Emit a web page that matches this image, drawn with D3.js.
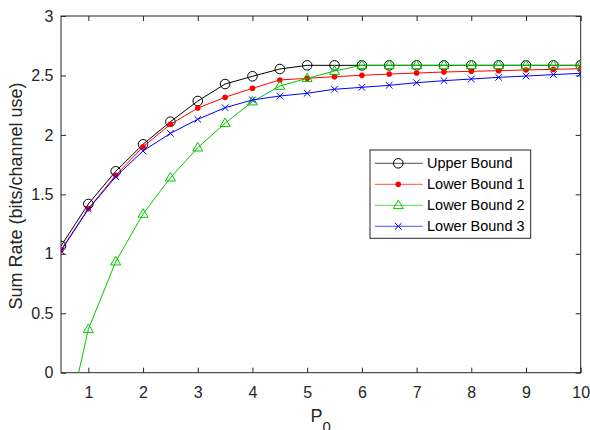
<!DOCTYPE html>
<html>
<head>
<meta charset="utf-8">
<script src="https://cdn.jsdelivr.net/npm/d3@7"></script>
<style>
  body { margin: 0; background: #fff; }
  text { font-family: "Liberation Sans", Arial, sans-serif; }
</style>
</head>
<body>
<svg id="chart"></svg>
<script>
// data
const p0 = [0.5, 1, 1.5, 2, 2.5, 3, 3.5, 4, 4.5, 5, 5.5, 6, 6.5, 7, 7.5, 8, 8.5, 9, 9.5, 10];
const upperBound = [1.066, 1.419, 1.694, 1.921, 2.111, 2.285, 2.428, 2.493, 2.554, 2.585, 2.585, 2.585, 2.585, 2.585, 2.585, 2.585, 2.585, 2.585, 2.585, 2.585];
const lowerBound1 = [1.032, 1.38, 1.66, 1.90, 2.089, 2.226, 2.316, 2.392, 2.462, 2.476, 2.49, 2.501, 2.512, 2.52, 2.529, 2.535, 2.54, 2.546, 2.551, 2.557];
const lowerBound2 = [-0.66, 0.365, 0.934, 1.335, 1.64, 1.892, 2.098, 2.28, 2.411, 2.476, 2.537, 2.585, 2.585, 2.585, 2.585, 2.585, 2.585, 2.585, 2.585, 2.585];
const lowerBound3 = [1.025, 1.375, 1.648, 1.865, 2.013, 2.131, 2.229, 2.294, 2.327, 2.35, 2.384, 2.40, 2.417, 2.439, 2.456, 2.47, 2.484, 2.495, 2.507, 2.518];
const xTicks = [1, 2, 3, 4, 5, 6, 7, 8, 9, 10];
const yTicks = [0, 0.5, 1, 1.5, 2, 2.5, 3];
const seriesNames = ['Upper Bound', 'Lower Bound 1', 'Lower Bound 2', 'Lower Bound 3'];

const width = 590, height = 430;
const margin = {top: 16, right: 9.3, bottom: 57.3, left: 61};
const innerW = width - margin.left - margin.right;
const innerH = height - margin.top - margin.bottom;
const axisColor = '#262626';

const svg = d3.select('#chart').attr('width', width).attr('height', height);
const chart = svg.append('g').attr('transform', `translate(${margin.left}, ${margin.top})`);

const xscale = d3.scaleLinear().domain([0.5, 10]).range([0, innerW]);
const yscale = d3.scaleLinear().domain([0, 3]).range([innerH, 0]);

// axes with inward ticks, box on all sides
const tickLen = 5;
function styleAxis(g){
    g.select('.domain').remove();
    g.selectAll('line').attr('stroke', axisColor);
    g.selectAll('text').attr('fill', axisColor).style('font-size', '16px');
}
chart.append('g')
    .attr('transform', `translate(0, ${innerH})`)
    .call(d3.axisBottom(xscale).tickValues(xTicks).tickSizeInner(-tickLen).tickSizeOuter(0).tickPadding(14).tickFormat(d3.format('d')))
    .call(styleAxis);
chart.append('g')
    .call(d3.axisTop(xscale).tickValues(xTicks).tickSizeInner(-tickLen).tickSizeOuter(0).tickFormat(''))
    .call(styleAxis);
chart.append('g')
    .call(d3.axisLeft(yscale).tickValues(yTicks).tickSizeInner(-tickLen).tickSizeOuter(0).tickPadding(7.5).tickFormat(d => d))
    .call(styleAxis);
chart.append('g')
    .attr('transform', `translate(${innerW}, 0)`)
    .call(d3.axisRight(yscale).tickValues(yTicks).tickSizeInner(-tickLen).tickSizeOuter(0).tickFormat(''))
    .call(styleAxis);

chart.append('rect')
    .attr('width', innerW).attr('height', innerH)
    .attr('fill', 'none').attr('stroke', axisColor).attr('stroke-width', 1);

// clip
svg.append('defs').append('clipPath').attr('id', 'clip')
    .append('rect').attr('width', innerW).attr('height', innerH);

const plot = chart.append('g').attr('clip-path', 'url(#clip)');

const line = d3.line().x(d => xscale(d.x)).y(d => yscale(d.y));

const triangle = 'M0,-5.3L5,3.3L-5,3.3Z';
const series = [
    {name: seriesNames[0], values: upperBound, color: '#000000', marker: 'circle'},
    {name: seriesNames[1], values: lowerBound1, color: '#ff0000', marker: 'dot'},
    {name: seriesNames[2], values: lowerBound2, color: '#00c800', marker: 'triangle'},
    {name: seriesNames[3], values: lowerBound3, color: '#0000ff', marker: 'cross'}
];

function drawMarker(g, type, color){
    if(type === 'circle'){
        g.append('circle').attr('r', 4.8).attr('fill', 'none').attr('stroke', color).attr('stroke-width', 1);
    } else if(type === 'dot'){
        g.append('circle').attr('r', 2.8).attr('fill', color);
    } else if(type === 'triangle'){
        g.append('path').attr('d', triangle).attr('fill', 'none').attr('stroke', color).attr('stroke-width', 1);
    } else {
        g.append('path').attr('d', 'M-3.3,-3.3L3.3,3.3M-3.3,3.3L3.3,-3.3').attr('stroke', color).attr('stroke-width', 1);
    }
}

series.forEach(s => {
    const pts = p0.map((x, i) => ({x: x, y: s.values[i]}));
    plot.append('path')
        .attr('d', line(pts))
        .attr('fill', 'none')
        .attr('stroke', s.color)
        .attr('stroke-width', 1);
    plot.selectAll(null).data(pts.filter(d => d.y >= 0)).enter()
        .append('g')
        .attr('transform', d => `translate(${xscale(d.x)}, ${yscale(d.y)})`)
        .each(function(){ drawMarker(d3.select(this), s.marker, s.color); });
});

// legend
const legend = svg.append('g').attr('transform', 'translate(370, 150)');
legend.append('rect')
    .attr('width', 160.7).attr('height', 88.3)
    .attr('fill', '#fff').attr('stroke', axisColor).attr('stroke-width', 1);
series.forEach((s, i) => {
    const row = legend.append('g').attr('transform', `translate(0, ${13.3 + i * 21})`);
    row.append('line')
        .attr('x1', 5).attr('x2', 52.7)
        .attr('stroke', s.color).attr('stroke-width', 1).attr('stroke-opacity', 0.7);
    drawMarker(row.append('g').attr('transform', 'translate(28.3, 0)'), s.marker, s.color);
    row.append('text')
        .attr('x', 57).attr('y', 0).attr('dy', '0.35em')
        .style('font-size', '14.5px').attr('fill', '#000')
        .text(s.name);
});

// axis labels
svg.append('text')
    .attr('transform', 'translate(21.5, 196) rotate(-90)')
    .attr('text-anchor', 'middle')
    .style('font-size', '18px').attr('fill', axisColor)
    .text('Sum Rate (bits/channel use)');

const xlab = svg.append('text')
    .attr('x', 310.5).attr('y', 421.5)
    .style('font-size', '18px').attr('fill', axisColor);
xlab.append('tspan').text('P');
xlab.append('tspan').attr('dy', 10).style('font-size', '15px').text('0');
</script>
</body>
</html>
